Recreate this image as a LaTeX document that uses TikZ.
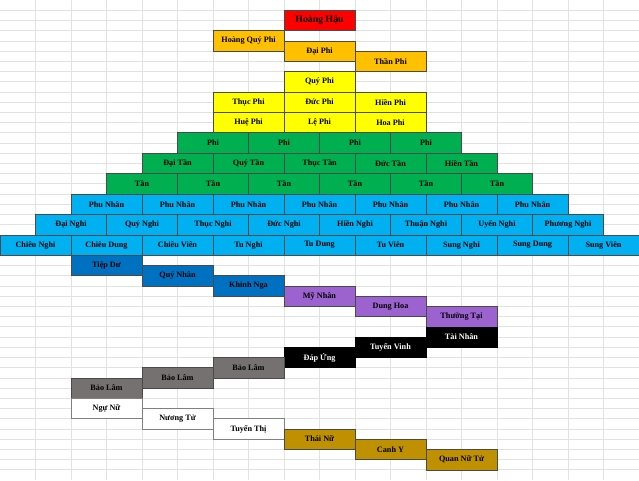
\documentclass[tikz,border=0pt]{standalone}
\usepackage{fontspec}
\setmainfont{Liberation Serif}
\definecolor{xred}{HTML}{FF0000}
\definecolor{xorange}{HTML}{FFC000}
\definecolor{xyellow}{HTML}{FFFF00}
\definecolor{xgreen}{HTML}{00B050}
\definecolor{xlblue}{HTML}{00B0F0}
\definecolor{xdblue}{HTML}{0070C0}
\definecolor{xpurple}{HTML}{9B62D0}
\definecolor{xgray}{HTML}{767171}
\definecolor{xgold}{HTML}{BF9000}
\definecolor{xgrid}{HTML}{E2E2E2}
\definecolor{xborder}{HTML}{4A4A4A}
\tikzset{
  cellbox/.style={draw=xborder, line width=0.6pt, minimum width=71pt, minimum height=20.43pt,
    anchor=north west, inner sep=0pt, outer sep=0pt, font=\bfseries\fontsize{8.2}{9}\selectfont},
  redc/.style={cellbox, fill=xred, font=\bfseries\fontsize{9.8}{11}\selectfont},
  orangec/.style={cellbox, fill=xorange},
  yellowc/.style={cellbox, fill=xyellow},
  greenc/.style={cellbox, fill=xgreen},
  lbluec/.style={cellbox, fill=xlblue},
  dbluec/.style={cellbox, fill=xdblue},
  purplec/.style={cellbox, fill=xpurple},
  blackc/.style={cellbox, fill=black, draw=black, text=white},
  grayc/.style={cellbox, fill=xgray},
  whitec/.style={cellbox, fill=white, draw=black!50},
  goldc/.style={cellbox, fill=xgold},
  gridline/.style={draw=xgrid, line width=0.7pt}
}
\begin{document}
\begin{tikzpicture}[x=35.5pt,y=-10.2128pt]
\useasboundingbox (0,0) rectangle (18,47);
\fill[white] (0,0) rectangle (18,47);
\foreach \i in {1,...,17} {\draw[gridline] (\i,0) -- (\i,47);}
\foreach \j in {1,...,46} {\draw[gridline] (0,\j) -- (18,\j);}
% tier 1
\node[redc] (hh) at (8,1) {Hoàng Hậu};
\node[orangec] (hqp) at (6,3) {Hoàng Quý Phi};
\node[orangec] (dp) at (8,4) {Đại Phi};
\node[orangec] (tp) at (10,5) {Thần Phi};
\node[yellowc] (qp) at (8,7) {Quý Phi};
\node[yellowc] (thp) at (6,9) {Thục Phi};
\node[yellowc] (dup) at (8,9) {Đức Phi};
\node[yellowc] (hip) at (10,9) {Hiền Phi};
\node[yellowc] (hup) at (6,11) {Huệ Phi};
\node[yellowc] (lep) at (8,11) {Lệ Phi};
\node[yellowc] (hop) at (10,11) {Hoa Phi};
% Phi
\node[greenc] (p1) at (5,13) {Phi};
\node[greenc] (p2) at (7,13) {Phi};
\node[greenc] (p3) at (9,13) {Phi};
\node[greenc] (p4) at (11,13) {Phi};
% Tan
\node[greenc] (dt) at (4,15) {Đại Tần};
\node[greenc] (qt) at (6,15) {Quý Tần};
\node[greenc] (tt) at (8,15) {Thục Tần};
\node[greenc] (ddt) at (10,15) {Đức Tần};
\node[greenc] (ht) at (12,15) {Hiền Tần};
\node[greenc] (t1) at (3,17) {Tần};
\node[greenc] (t2) at (5,17) {Tần};
\node[greenc] (t3) at (7,17) {Tần};
\node[greenc] (t4) at (9,17) {Tần};
\node[greenc] (t5) at (11,17) {Tần};
\node[greenc] (t6) at (13,17) {Tần};
% Phu Nhan
\node[lbluec] (pn1) at (2,19) {Phu Nhân};
\node[lbluec] (pn2) at (4,19) {Phu Nhân};
\node[lbluec] (pn3) at (6,19) {Phu Nhân};
\node[lbluec] (pn4) at (8,19) {Phu Nhân};
\node[lbluec] (pn5) at (10,19) {Phu Nhân};
\node[lbluec] (pn6) at (12,19) {Phu Nhân};
\node[lbluec] (pn7) at (14,19) {Phu Nhân};
% Nghi
\node[lbluec] (n1) at (1,21) {Đại Nghi};
\node[lbluec] (n2) at (3,21) {Quý Nghi};
\node[lbluec] (n3) at (5,21) {Thục Nghi};
\node[lbluec] (n4) at (7,21) {Đức Nghi};
\node[lbluec] (n5) at (9,21) {Hiền Nghi};
\node[lbluec] (n6) at (11,21) {Thuận Nghi};
\node[lbluec] (n7) at (13,21) {Uyển Nghi};
\node[lbluec] (n8) at (15,21) {Phương Nghi};
% Chieu / Tu / Sung
\node[lbluec] (c1) at (0,23) {Chiêu Nghi};
\node[lbluec] (c2) at (2,23) {Chiêu Dung};
\node[lbluec] (c3) at (4,23) {Chiêu Viên};
\node[lbluec] (c4) at (6,23) {Tu Nghi};
\node[lbluec] (c5) at (8,23) {Tu Dung};
\node[lbluec] (c6) at (10,23) {Tu Viên};
\node[lbluec] (c7) at (12,23) {Sung Nghi};
\node[lbluec] (c8) at (14,23) {Sung Dung};
\node[lbluec] (c9) at (16,23) {Sung Viên};
% lower ranks
\node[dbluec] (td) at (2,25) {Tiệp Dư};
\node[dbluec] (qn) at (4,26) {Quý Nhân};
\node[dbluec] (kn) at (6,27) {Khinh Nga};
\node[purplec] (mn) at (8,28) {Mỹ Nhân};
\node[purplec] (dh) at (10,29) {Dung Hoa};
\node[purplec] (tht) at (12,30) {Thường Tại};
\node[blackc] (tn) at (12,32) {Tài Nhân};
\node[blackc] (tv) at (10,33) {Tuyển Vinh};
\node[blackc] (du) at (8,34) {Đáp Ứng};
\node[grayc] (bl1) at (6,35) {Bảo Lâm};
\node[grayc] (bl2) at (4,36) {Bảo Lâm};
\node[grayc] (bl3) at (2,37) {Bảo Lâm};
\node[whitec] (nn) at (2,39) {Ngự Nữ};
\node[whitec] (nt) at (4,40) {Nương Tử};
\node[whitec] (tth) at (6,41) {Tuyển Thị};
\node[goldc] (thn) at (8,42) {Thái Nữ};
\node[goldc] (cy) at (10,43) {Canh Y};
\node[goldc] (qnt) at (12,44) {Quan Nữ Tử};
\end{tikzpicture}
\end{document}
